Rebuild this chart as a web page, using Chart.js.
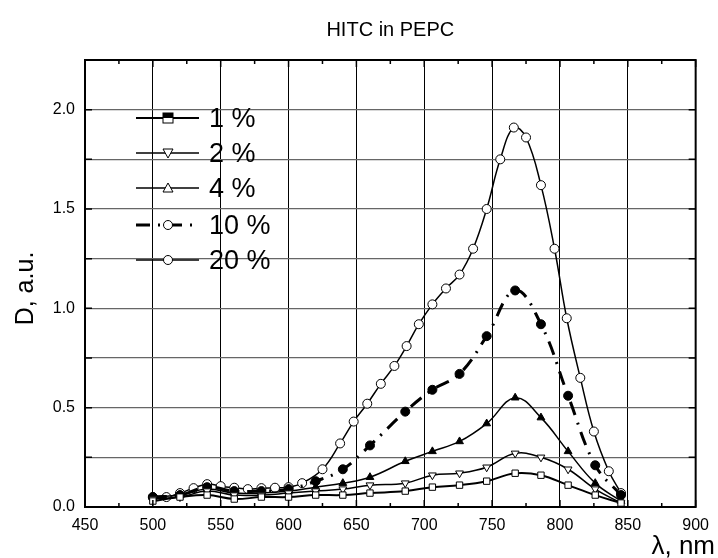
<!DOCTYPE html>
<html>
<head>
<meta charset="utf-8">
<script src="https://cdn.jsdelivr.net/npm/chart.js@4"></script>
<style>
  html, body { margin: 0; padding: 0; background: #fff; }
  #wrap { width: 718px; height: 558px; }
</style>
</head>
<body>
<div id="wrap"><canvas id="chart"></canvas></div>
<script>
// Datos (λ en nm, D en u.a.)
const lam20 = [500, 510, 520, 530, 540, 550, 560, 570, 580, 590, 600, 610, 625, 638, 648, 658, 668, 678, 687, 696, 706, 716, 726, 736, 746, 756, 766, 775, 786, 796, 805, 815, 825, 836, 845];
const d20 = [0.05, 0.05, 0.07, 0.095, 0.115, 0.105, 0.097, 0.09, 0.095, 0.097, 0.10, 0.12, 0.19, 0.32, 0.43, 0.52, 0.62, 0.71, 0.81, 0.92, 1.02, 1.10, 1.17, 1.30, 1.50, 1.75, 1.91, 1.86, 1.62, 1.30, 0.95, 0.65, 0.38, 0.18, 0.07];

const lamLow = [500, 520, 540, 560, 580, 600, 620, 640, 660, 686, 706, 726, 746, 767, 786, 806, 826, 845];
const d10 = [0.05, 0.06, 0.10, 0.08, 0.08, 0.09, 0.13, 0.19, 0.31, 0.48, 0.59, 0.67, 0.86, 1.09, 0.92, 0.56, 0.21, 0.06];
const d4 = [0.05, 0.06, 0.09, 0.07, 0.07, 0.08, 0.10, 0.12, 0.15, 0.23, 0.28, 0.33, 0.42, 0.55, 0.45, 0.28, 0.12, 0.03];
const d2 = [0.04, 0.05, 0.08, 0.06, 0.06, 0.07, 0.08, 0.09, 0.11, 0.12, 0.16, 0.17, 0.20, 0.27, 0.25, 0.19, 0.09, 0.02];
const d1 = [0.03, 0.05, 0.06, 0.04, 0.05, 0.05, 0.06, 0.06, 0.07, 0.08, 0.10, 0.11, 0.13, 0.17, 0.16, 0.11, 0.06, 0.02];

const seriesLabels = ['1 %', '2 %', '4 %', '10 %', '20 %'];
const titleText = 'HITC in PEPC';
const yTitle = 'D, a.u.';
const xTitle = 'λ, nm';

const FONT = '"Liberation Sans", Arial, sans-serif';

function pts(xs, ys) {
    return xs.map((x, i) => ({ x: x, y: ys[i] }));
}

// Marcadores dibujados a mano para la leyenda
function drawMarker(ctx, kind, x, y) {
    ctx.save();
    ctx.lineWidth = 1;
    ctx.strokeStyle = '#000';
    if (kind === 'square') {
        ctx.fillStyle = '#fff';
        ctx.fillRect(x - 5, y - 5, 10, 10);
        ctx.fillStyle = '#000';
        ctx.fillRect(x - 5, y - 5, 10, 5);
        ctx.strokeRect(x - 5, y - 5, 10, 10);
    } else if (kind === 'down') {
        ctx.fillStyle = '#fff';
        ctx.beginPath();
        ctx.moveTo(x - 5, y - 4); ctx.lineTo(x + 5, y - 4); ctx.lineTo(x, y + 5); ctx.closePath();
        ctx.fill(); ctx.stroke();
    } else if (kind === 'up') {
        ctx.fillStyle = '#fff';
        ctx.beginPath();
        ctx.moveTo(x - 5, y + 4); ctx.lineTo(x + 5, y + 4); ctx.lineTo(x, y - 5); ctx.closePath();
        ctx.fill(); ctx.stroke();
    } else {
        ctx.fillStyle = '#fff';
        ctx.beginPath();
        ctx.arc(x, y, 4.5, 0, Math.PI * 2);
        ctx.fill(); ctx.stroke();
    }
    ctx.restore();
}

const overlay = {
    id: 'overlay',
    afterDraw(chart) {
        const { ctx, chartArea: a, scales: { x, y } } = chart;
        ctx.save();

        // marco
        ctx.strokeStyle = '#000';
        ctx.lineWidth = 2;
        ctx.strokeRect(a.left, a.top, a.right - a.left, a.bottom - a.top);

        // ticks hacia dentro
        ctx.lineWidth = 1.5;
        for (let v = 450; v <= 900; v += 25) {
            const px = x.getPixelForValue(v);
            const len = v % 50 === 0 ? 7 : 4;
            ctx.beginPath();
            ctx.moveTo(px, a.bottom); ctx.lineTo(px, a.bottom - len);
            ctx.moveTo(px, a.top); ctx.lineTo(px, a.top + len);
            ctx.stroke();
        }
        for (let v = 0; v <= 2.25001; v += 0.25) {
            const py = y.getPixelForValue(v);
            ctx.beginPath();
            ctx.moveTo(a.left, py); ctx.lineTo(a.left + 7, py);
            ctx.moveTo(a.right, py); ctx.lineTo(a.right - 7, py);
            ctx.stroke();
        }

        // títulos
        ctx.fillStyle = '#000';
        ctx.font = '20px ' + FONT;
        ctx.textAlign = 'center';
        ctx.textBaseline = 'middle';
        ctx.fillText(titleText, (a.left + a.right) / 2, 30);

        ctx.font = '26px ' + FONT;
        ctx.textAlign = 'right';
        ctx.textBaseline = 'alphabetic';
        ctx.fillText(xTitle, 715, 554);

        ctx.save();
        ctx.font = '25px ' + FONT;
        ctx.translate(33, (a.top + a.bottom) / 2 + 5);
        ctx.rotate(-Math.PI / 2);
        ctx.textAlign = 'center';
        ctx.fillText(yTitle, 0, 0);
        ctx.restore();

        // leyenda
        const rows = [118, 153, 188, 225, 260];
        const kinds = ['square', 'down', 'up', 'circle', 'circle'];
        const widths = [2, 1.5, 1.5, 3, 1.5];
        ctx.font = '27px ' + FONT;
        ctx.textAlign = 'left';
        ctx.textBaseline = 'middle';
        rows.forEach((ry, i) => {
            ctx.save();
            ctx.strokeStyle = '#000';
            ctx.lineWidth = widths[i];
            if (i === 3) ctx.setLineDash([14, 8, 2, 8]);
            ctx.beginPath();
            ctx.moveTo(136, ry); ctx.lineTo(199, ry);
            ctx.stroke();
            ctx.restore();
            drawMarker(ctx, kinds[i], 168, ry);
            ctx.fillText(seriesLabels[i], 209, ry + 2);
        });

        ctx.restore();
    }
};

const ctx = document.getElementById('chart');

new Chart(ctx, {
    type: 'line',
    data: {
        datasets: [
            {
                label: seriesLabels[0],
                data: pts(lamLow, d1),
                borderColor: '#000',
                borderWidth: 2,
                pointStyle: 'rect',
                pointRadius: 4.5,
                pointBackgroundColor: '#fff',
                pointBorderColor: '#000',
                pointBorderWidth: 1,
                tension: 0.4
            },
            {
                label: seriesLabels[1],
                data: pts(lamLow, d2),
                borderColor: '#000',
                borderWidth: 1.5,
                pointStyle: 'triangle',
                pointRotation: 180,
                pointRadius: 4.5,
                pointBackgroundColor: '#fff',
                pointBorderColor: '#000',
                pointBorderWidth: 1,
                tension: 0.4
            },
            {
                label: seriesLabels[2],
                data: pts(lamLow, d4),
                borderColor: '#000',
                borderWidth: 1.5,
                pointStyle: 'triangle',
                pointRadius: 4.5,
                pointBackgroundColor: '#000',
                pointBorderColor: '#000',
                pointBorderWidth: 1,
                tension: 0.4
            },
            {
                label: seriesLabels[3],
                data: pts(lamLow, d10),
                borderColor: '#000',
                borderWidth: 3,
                borderDash: [14, 8, 2, 8],
                pointStyle: 'circle',
                pointRadius: 4.5,
                pointBackgroundColor: '#000',
                pointBorderColor: '#000',
                pointBorderWidth: 1,
                tension: 0.4
            },
            {
                label: seriesLabels[4],
                data: pts(lam20, d20),
                borderColor: '#000',
                borderWidth: 1.5,
                pointStyle: 'circle',
                pointRadius: 4.5,
                pointBackgroundColor: '#fff',
                pointBorderColor: '#000',
                pointBorderWidth: 1,
                tension: 0.4
            }
        ]
    },
    options: {
        responsive: true,
        maintainAspectRatio: false,
        animation: false,
        layout: { padding: { top: 60, right: 16, left: 0, bottom: 0 } },
        plugins: {
            legend: { display: false },
            title: { display: false },
            tooltip: { enabled: false }
        },
        scales: {
            x: {
                type: 'linear',
                min: 450,
                max: 900,
                afterFit: s => { s.height = 51; },
                ticks: {
                    stepSize: 50,
                    padding: 9,
                    color: '#000',
                    font: { family: FONT, size: 16 }
                },
                grid: { color: '#000', lineWidth: 1, drawTicks: false },
                border: { display: false }
            },
            y: {
                min: 0,
                max: 2.25,
                afterFit: s => { s.width = 85; },
                ticks: {
                    stepSize: 0.25,
                    padding: 10,
                    color: '#000',
                    font: { family: FONT, size: 16 },
                    callback: v => {
                        const t = v * 2;
                        if (Math.abs(t - Math.round(t)) < 1e-6 && v <= 2.0001) return v.toFixed(1);
                        return '';
                    }
                },
                grid: { color: '#666', lineWidth: 1.3, drawTicks: false },
                border: { display: false }
            }
        }
    },
    plugins: [overlay]
});
</script>
</body>
</html>
